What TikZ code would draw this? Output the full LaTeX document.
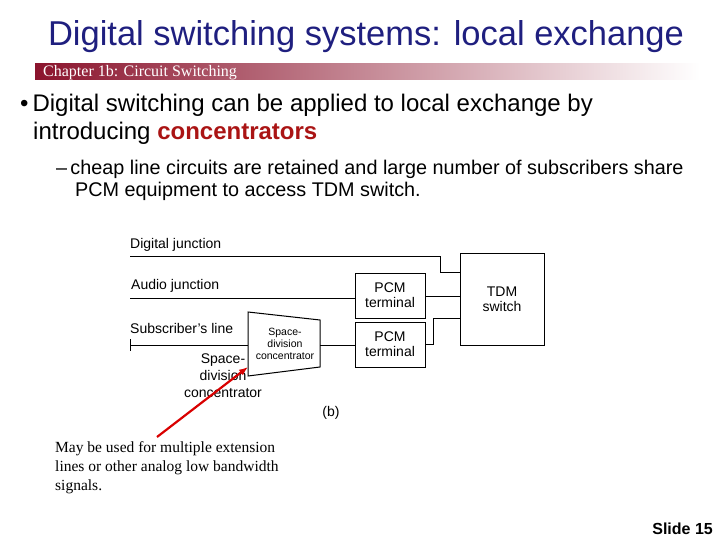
\documentclass[tikz,border=0pt]{standalone}
\usepackage{fontspec}
\usetikzlibrary{arrows.meta}
\setmainfont{Liberation Sans}
\newfontfamily\serifb{Liberation Serif}
\begin{document}
\begin{tikzpicture}[x=1pt,y=-1pt,
  blk/.style={draw,line width=1pt,align=center,font=\fontsize{14}{15}\selectfont},
  ln/.style={line width=0.9pt},
  lab/.style={font=\fontsize{14}{15}\selectfont,inner sep=0pt}]
\useasboundingbox (0,0) rectangle (720,540);
\node[font=\fontsize{34.5}{36}\selectfont,text={rgb,255:red,31;green,31;blue,127}] (title) at (366,37) {Digital switching systems: local exchange};
\shade[left color={rgb,255:red,139;green,20;blue,45},right color=white] (35,64) rectangle (700,80);
\node[anchor=west,text=white,inner sep=0pt,font=\serifb\fontsize{16}{16}\selectfont] (chap) at (43,72.5) {Chapter 1b: Circuit Switching};
\node[anchor=north west,align=left,inner sep=0pt,font=\fontsize{24}{28}\selectfont] (b1) at (20,94) {\textbullet\,Digital switching can be applied to local exchange by\\\hspace*{13pt}introducing \textcolor[RGB]{170,20,20}{\textbf{concentrators}}};
\node[anchor=north west,align=left,inner sep=0pt,font=\fontsize{19.8}{22}\selectfont] (b2) at (56,160) {\textendash\,cheap line circuits are retained and large number of subscribers share\\\hspace*{19pt}PCM equipment to access TDM switch.};
% diagram
\node[blk,minimum width=84pt,minimum height=92pt] (tdm) at (502,299) {TDM\\switch};
\node[blk,minimum width=70pt,minimum height=45pt] (p1) at (390,295.5) {PCM\\terminal};
\node[blk,minimum width=70pt,minimum height=45pt] (p2) at (390,344.5) {PCM\\terminal};
\draw[line width=1pt] (248,312) -- (320,320) -- (320,367) -- (248,376) -- cycle;
\node[align=center,font=\fontsize{10.5}{12}\selectfont] (sdc) at (285,344) {Space-\\division\\concentrator};
\coordinate (cl) at (248,345);
\coordinate (cr) at (320,345);
\node[lab,anchor=west] (dj) at (130,245) {Digital junction};
\node[lab,anchor=west] (aj) at (131,286) {Audio junction};
\node[lab,anchor=west] (sl) at (130,328) {Subscriber's line};
\node[lab,align=center,anchor=north,font=\fontsize{14}{17}\selectfont] (sdl) at (223,354) {Space-\\division\\concentrator};
\node[lab] (bb) at (331,413) {(b)};
\coordinate (d0) at (130,256);
\coordinate (a0) at (130,298);
\coordinate (s0) at (130,345);
\draw[ln] (d0) -- (440,256) |- (tdm.west |- 0,272);
\draw[ln] (a0) -- (p1.west |- a0);
\draw[ln] (p1.east |- 0,296) -- (tdm.west |- 0,296);
\draw[ln] (p2.east) -- (433,344.5) |- (tdm.west |- 0,318);
\draw[ln] (s0) -- (cl);
\draw[ln] (130,339) -- (130,351);
\draw[ln] (cr) -- (p2.west |- cr);
\node[anchor=north west,align=left,inner sep=0pt,font=\serifb\fontsize{15.5}{19}\selectfont] (note) at (55,441) {May be used for multiple extension\\lines or other analog low bandwidth\\signals.};
\coordinate (ar0) at (157,437);
\draw[red!85!black,line width=2.2pt,-{Latex[length=9pt,width=7pt]}] (ar0) -- (248,367);
\node[anchor=south east,inner sep=0pt,font=\bfseries\fontsize{16}{17}\selectfont] (slide) at (713,535) {Slide 15};
\end{tikzpicture}
\end{document}
